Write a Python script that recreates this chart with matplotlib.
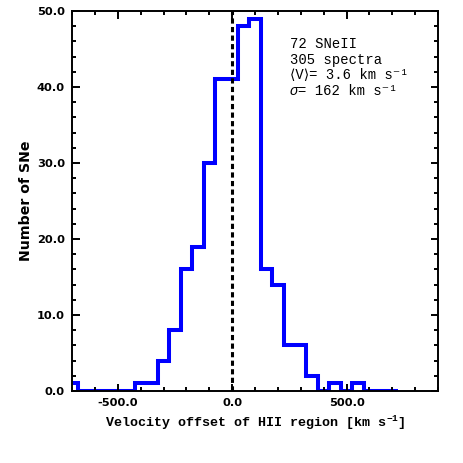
import numpy as np
import matplotlib
matplotlib.use("Agg")
import matplotlib.pyplot as plt
from matplotlib.ticker import MultipleLocator, FormatStrFormatter

# Histogram data (bin width 50 km/s)
bin_edges = np.arange(-725, 726, 50)
counts = [1, 0, 0, 0, 0, 0, 1, 1, 4, 8, 16, 19, 30, 41, 41, 48, 49,
          16, 14, 6, 6, 2, 0, 1, 0, 1, 0, 0, 0]

info_lines = ["72 SNeII", "305 spectra",
              "\u27e8V\u27e9= 3.6 km s\u207b\u00b9",
              "= 162 km s\u207b\u00b9"]

plt.rcParams['mathtext.fontset'] = 'custom'
plt.rcParams['mathtext.rm'] = 'Liberation Mono'
plt.rcParams['mathtext.it'] = 'Liberation Mono:italic'
plt.rcParams['mathtext.bf'] = 'Liberation Mono:bold'
plt.rcParams['mathtext.fallback'] = 'stix'

fig = plt.figure(figsize=(4.63, 4.63), dpi=100)
ax = fig.add_axes([72/463, 1 - 391/463, (438-72)/463, (391-11)/463])

ax.stairs(counts, bin_edges, baseline=None, color=(0, 0, 1), lw=2.9)
ax.axvline(0, color='black', lw=2.2, linestyle=(0, (1.7, 1.1)), dash_capstyle='butt')

ax.set_xlim(-700, 900)
ax.set_ylim(0, 50)

ax.xaxis.set_major_locator(MultipleLocator(500))
ax.xaxis.set_minor_locator(MultipleLocator(100))
ax.yaxis.set_major_locator(MultipleLocator(10))
ax.yaxis.set_minor_locator(MultipleLocator(2))
ax.xaxis.set_major_formatter(FormatStrFormatter('%.1f'))
ax.yaxis.set_major_formatter(FormatStrFormatter('%.1f'))

ax.tick_params(which='both', direction='in', top=True, right=True, width=1.4)
ax.tick_params(which='major', length=5.4, pad=5)
ax.tick_params(which='minor', length=2.9)
for lab in ax.get_xticklabels() + ax.get_yticklabels():
    lab.set_fontsize(8.2)
    lab.set_fontweight('bold')
    lab.set_family('DejaVu Sans')
for s in ax.spines.values():
    s.set_linewidth(1.4)

ax.set_xlabel(r"Velocity offset of HII region [km s$^{\mathbf{-1}}$]",
              family='Liberation Mono', fontsize=9.6, fontweight='bold', labelpad=4)
ax.set_ylabel("Number of SNe", family='DejaVu Sans', fontsize=10.2, fontweight='bold', labelpad=3)

fam = ['Liberation Mono', 'DejaVu Sans']
x0 = 290 / 463
for i, t in enumerate(info_lines):
    y = 1 - (48.5 + i * 15.4) / 463
    if i == 3:
        ax.text(x0, y, "\u03c3", transform=fig.transFigure, family=fam,
                style='italic', fontsize=10, va='baseline', ha='left')
        ax.text(x0 + 8.4 / 463, y, t, transform=fig.transFigure, family=fam,
                fontsize=10, va='baseline', ha='left')
    else:
        ax.text(x0, y, t, transform=fig.transFigure, family=fam,
                fontsize=10, va='baseline', ha='left')

fig.savefig("out.png", dpi=100)
